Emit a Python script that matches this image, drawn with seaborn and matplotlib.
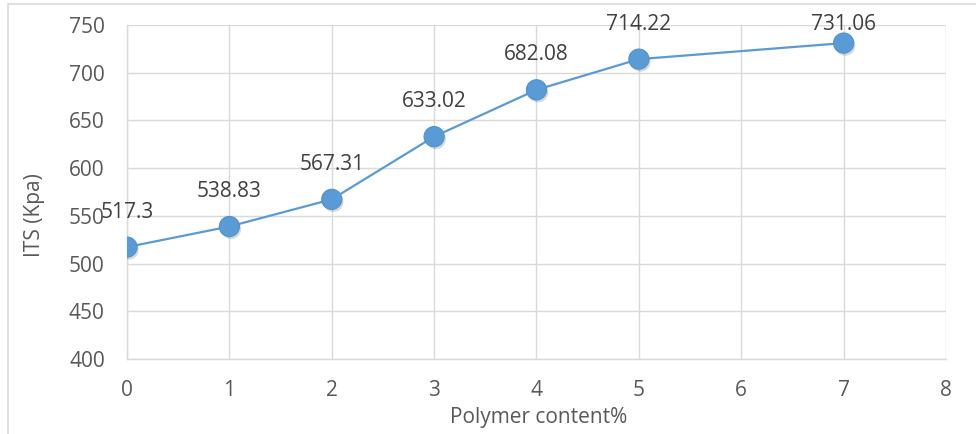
import matplotlib
matplotlib.use("Agg")
import matplotlib.pyplot as plt
import matplotlib.patheffects as pe
import seaborn as sns
import pandas as pd

polymer_content = [0, 1, 2, 3, 4, 5, 7]
its_kpa = [517.3, 538.83, 567.31, 633.02, 682.08, 714.22, 731.06]
value_labels = ["517.3", "538.83", "567.31", "633.02", "682.08", "714.22", "731.06"]
x_ticks = [0, 1, 2, 3, 4, 5, 6, 7, 8]
y_ticks = [400, 450, 500, 550, 600, 650, 700, 750]

sns.set_theme(style="white")
plt.rcParams["font.family"] = ["Open Sans", "DejaVu Sans"]

df = pd.DataFrame({"x": polymer_content, "y": its_kpa})

W, H = 976, 434
fig = plt.figure(figsize=(W / 100, H / 100), dpi=100)
ax = fig.add_axes([127 / W, 75 / H, 819 / W, 334 / H])

blue = "#5B9BD5"
grid = "#D9D9D9"
text_col = "#595959"

ax.set_xlim(0, 8)
ax.set_ylim(400, 750)

sns.lineplot(data=df, x="x", y="y", ax=ax, color=blue, linewidth=1.6, zorder=3)
sns.scatterplot(data=df, x="x", y="y", ax=ax, color=blue, s=210,
                edgecolor="#4F92D0", linewidth=0.8, zorder=4,
                path_effects=[pe.SimplePatchShadow(offset=(1.2, -1.8), alpha=0.18),
                              pe.Normal()])

# value labels above each point, kept inside the chart frame
fig.canvas.draw()
for x, y, t in zip(polymer_content, its_kpa, value_labels):
    px, py = ax.transData.transform((x, y))
    ty = min(py + 35, H - 24)
    fig.text(px / W, ty / H, t, ha="center", va="center",
             fontsize=15, color="#404040")

ax.set_xticks(x_ticks)
ax.set_yticks(y_ticks)
ax.grid(True, color=grid, linewidth=1)
ax.set_axisbelow(True)
for s in ["top", "right"]:
    ax.spines[s].set_visible(False)
for s in ["left", "bottom"]:
    ax.spines[s].set_color(grid)
    ax.spines[s].set_linewidth(1)
ax.tick_params(axis="both", length=0, labelsize=15, colors=text_col)
ax.tick_params(axis="x", pad=15)
ax.tick_params(axis="y", pad=16)
ax.set_xlabel("Polymer content%", fontsize=15, color=text_col)
ax.set_ylabel("ITS (Kpa)", fontsize=15, color=text_col)
ax.xaxis.set_label_coords(0.502, -0.144)
ax.yaxis.set_label_coords(-0.100, 0.431)

# chart frame
frame = plt.Rectangle((8 / W, -0.05), 1.05, 1 - 4 / H + 0.05,
                      transform=fig.transFigure, fill=False,
                      edgecolor="#D9D9D9", linewidth=1.2)
fig.patches.append(frame)

fig.savefig("out.png", dpi=100)
